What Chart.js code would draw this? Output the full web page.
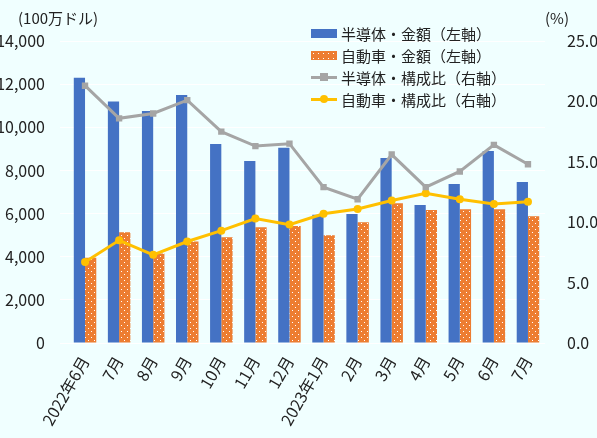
<!DOCTYPE html>
<html lang="ja">
<head>
<meta charset="utf-8">
<script src="https://cdn.jsdelivr.net/npm/chart.js@4.4.1/dist/chart.umd.min.js"></script>
<style>
  html, body { margin: 0; padding: 0; background: #f0ffff; }
  #wrap { position: relative; width: 597px; height: 438px; }
  .unit { position: absolute; top: 7px; font: 15px "Noto Sans CJK JP", sans-serif; color: #222; }
  #legend { position: absolute; left: 311px; top: 22px; font: 15px "Noto Sans CJK JP", sans-serif; color: #222; }
  .row { height: 22px; display: flex; align-items: center; }
  .sw { width: 26px; height: 9px; margin-right: 4px; position: relative; }
  .sw.line { height: 3px; }
  .sw .pt { position: absolute; left: 9px; top: -3px; width: 8px; height: 8px; }
</style>
</head>
<body>
<div id="wrap">
  <canvas id="chart" width="597" height="438"></canvas>
  <div class="unit" style="left:18px">(100万ドル)</div>
  <div class="unit" style="left:545px">(%)</div>
  <div id="legend"></div>
</div>
<script>
// ===== データ =====
const months = ['2022年6月', '7月', '8月', '9月', '10月', '11月', '12月',
  '2023年1月', '2月', '3月', '4月', '5月', '6月', '7月'];
const semiAmount = [12300, 11200, 10750, 11500, 9220, 8440, 9050, 5950, 5980, 8580, 6400, 7370, 8900, 7460];
const autoAmount = [3950, 5130, 4150, 4700, 4900, 5370, 5420, 5000, 5600, 6480, 6170, 6200, 6200, 5880];
const semiShare = [21.3, 18.6, 19.0, 20.1, 17.5, 16.3, 16.5, 12.9, 11.9, 15.6, 12.9, 14.2, 16.4, 14.8];
const autoShare = [6.7, 8.5, 7.3, 8.4, 9.3, 10.3, 9.8, 10.7, 11.1, 11.8, 12.4, 11.9, 11.5, 11.7];
const leftTicks = [0, 2000, 4000, 6000, 8000, 10000, 12000, 14000];
const rightTicks = [0, 5, 10, 15, 20, 25];

const BLUE = '#4472c4';
const ORANGE = '#ed7d31';
const GRAY = '#a5a5a5';
const YELLOW = '#ffc000';
const FONT = '"Noto Sans CJK JP", sans-serif';

// オレンジの点柄
function dotPattern() {
  const c = document.createElement('canvas');
  c.width = 6; c.height = 6;
  const g = c.getContext('2d');
  g.fillStyle = ORANGE;
  g.fillRect(0, 0, 6, 6);
  g.fillStyle = '#ffffff';
  g.fillRect(1, 1, 1, 1);
  g.fillRect(4, 4, 1, 1);
  return g.createPattern(c, 'repeat');
}

// ===== 凡例 =====
function renderLegend() {
  const items = [
    { label: '半導体・金額（左軸）', html: `<div class="sw" style="background:${BLUE}"></div>` },
    { label: '自動車・金額（左軸）', html: `<div class="sw" style="background:${ORANGE} radial-gradient(circle, #fff 0.6px, transparent 0.9px) 0 0 / 5px 5px"></div>` },
    { label: '半導体・構成比（右軸）', html: `<div class="sw line" style="background:${GRAY}"><div class="pt" style="background:${GRAY}"></div></div>` },
    { label: '自動車・構成比（右軸）', html: `<div class="sw line" style="background:${YELLOW}"><div class="pt" style="background:${YELLOW};border-radius:50%"></div></div>` },
  ];
  document.getElementById('legend').innerHTML = items
    .map((it) => `<div class="row">${it.html}<span>${it.label}</span></div>`)
    .join('');
}

const bgPlugin = {
  id: 'bg',
  beforeDraw(chart) {
    const ctx = chart.ctx;
    ctx.save();
    ctx.fillStyle = '#f0ffff';
    ctx.fillRect(0, 0, chart.width, chart.height);
    ctx.restore();
  },
};

function renderChart() {
  const canvas = document.getElementById('chart');
  new Chart(canvas, {
    type: 'bar',
    data: {
      labels: months,
      datasets: [
        {
          type: 'line', label: '半導体・構成比（右軸）', data: semiShare, yAxisID: 'y1',
          borderColor: GRAY, backgroundColor: GRAY, borderWidth: 3,
          pointStyle: 'rect', pointRadius: 4.5, pointBorderWidth: 0, order: 0,
        },
        {
          type: 'line', label: '自動車・構成比（右軸）', data: autoShare, yAxisID: 'y1',
          borderColor: YELLOW, backgroundColor: YELLOW, borderWidth: 3,
          pointStyle: 'circle', pointRadius: 4, pointBorderWidth: 0, order: 0,
        },
        {
          label: '半導体・金額（左軸）', data: semiAmount, yAxisID: 'y',
          backgroundColor: BLUE, categoryPercentage: 0.66, barPercentage: 1, order: 1,
        },
        {
          label: '自動車・金額（左軸）', data: autoAmount, yAxisID: 'y',
          backgroundColor: dotPattern(), categoryPercentage: 0.66, barPercentage: 1, order: 1,
        },
      ],
    },
    options: {
      responsive: false,
      animation: false,
      layout: { padding: { top: 41, left: 0, right: 0, bottom: 0 } },
      plugins: { legend: { display: false }, tooltip: { enabled: false } },
      scales: {
        x: {
          grid: { display: false },
          border: { display: false },
          ticks: {
            color: '#222', font: { family: FONT, size: 16 },
            minRotation: 60, maxRotation: 60, autoSkip: false, padding: 2,
          },
          afterFit: (s) => { s.height = 95; },
        },
        y: {
          position: 'left', min: 0, max: 14000,
          grid: { color: '#ffffff', lineWidth: 1 },
          border: { display: false },
          afterBuildTicks: (s) => { s.ticks = leftTicks.map((v) => ({ value: v })); },
          ticks: {
            color: '#222', font: { family: FONT, size: 16 }, padding: 15,
            callback: (v) => v.toLocaleString('en-US'),
          },
          afterFit: (s) => { s.width = 68; },
        },
        y1: {
          position: 'right', min: 0, max: 25,
          grid: { display: false },
          border: { display: false },
          afterBuildTicks: (s) => { s.ticks = rightTicks.map((v) => ({ value: v })); },
          ticks: {
            color: '#222', font: { family: FONT, size: 16 }, padding: 14,
            callback: (v) => v.toFixed(1),
          },
          afterFit: (s) => { s.width = 52; },
        },
      },
    },
    plugins: [bgPlugin],
  });
}

renderLegend();
renderChart();
</script>
</body>
</html>
